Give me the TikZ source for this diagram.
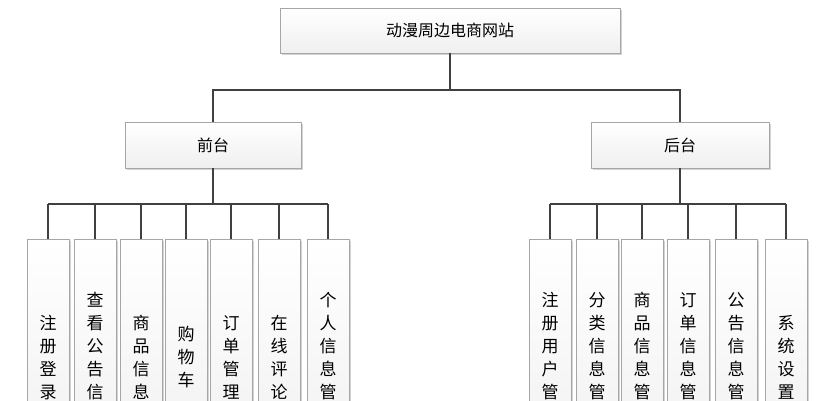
\documentclass[tikz,border=0pt]{standalone}
\usepackage{fontspec}
\setmainfont{Noto Sans CJK SC}
\usetikzlibrary{shadows}
\begin{document}
\begin{tikzpicture}[x=1pt,y=-1pt,
  box/.style={draw=gray!70,line width=0.8pt,top color=white,bottom color=gray!12,
    drop shadow={shadow xshift=1.5pt,shadow yshift=-1.5pt,opacity=0.35},font=\fontsize{16}{18}\selectfont},
  leaf/.style={box,minimum width=42pt,minimum height=236pt,inner sep=0pt,align=center,font=\fontsize{17}{23}\selectfont},
  conn/.style={draw=black!75,line width=1.2pt}]
\useasboundingbox (0,0) rectangle (837,400);
\clip (0,0) rectangle (837,400);
\node[box,minimum width=340pt,minimum height=45pt] (root) at (450,30.5) {动漫周边电商网站};
\node[box,minimum width=176pt,minimum height=46pt] (qt) at (213,145) {前台};
\node[box,minimum width=178pt,minimum height=46pt] (ht) at (680,145) {后台};
\draw[conn] (root.south) -- (450,90) coordinate (j) -| (qt.north);
\draw[conn] (j) -| (ht.north);
\foreach \n/\x/\t in {l1/48/注\\册\\登\\录,l2/95/查\\看\\公\\告\\信\\息,l3/141/商\\品\\信\\息,l4/186/购\\物\\车,l5/231/订\\单\\管\\理,l6/279/在\\线\\评\\论,l7/328/个\\人\\信\\息\\管\\理}{
  \node[leaf,anchor=north] (\n) at (\x,239) {\t};
  \draw[conn] (\n.north) -- (\x,204);}
\draw[conn] (l1.north|-0,204) -- (l7.north|-0,204);
\draw[conn] (qt.south) -- (213,204);
\foreach \n/\x/\t in {r1/550/注\\册\\用\\户\\管\\理,r2/597/分\\类\\信\\息\\管\\理,r3/642/商\\品\\信\\息\\管\\理,r4/688/订\\单\\信\\息\\管\\理,r5/736/公\\告\\信\\息\\管\\理,r6/786/系\\统\\设\\置}{
  \node[leaf,anchor=north] (\n) at (\x,239) {\t};
  \draw[conn] (\n.north) -- (\x,204);}
\draw[conn] (r1.north|-0,204) -- (r6.north|-0,204);
\draw[conn] (ht.south) -- (680,204);
\end{tikzpicture}
\end{document}
